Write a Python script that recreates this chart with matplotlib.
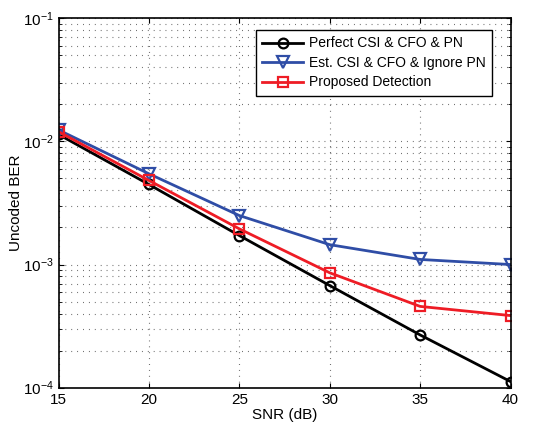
import numpy as np
import matplotlib.pyplot as plt
from matplotlib.ticker import LogLocator, NullFormatter

plt.rcParams['font.family'] = ['Liberation Sans', 'DejaVu Sans']

snr = [15, 20, 25, 30, 35, 40]
ber_perfect = [1.14e-2, 4.47e-3, 1.72e-3, 6.75e-4, 2.68e-4, 1.12e-4]
ber_ignore_pn = [1.24e-2, 5.46e-3, 2.5e-3, 1.45e-3, 1.1e-3, 1.0e-3]
ber_proposed = [1.2e-2, 4.82e-3, 1.95e-3, 8.57e-4, 4.57e-4, 3.85e-4]

labels = ['Perfect CSI & CFO & PN', 'Est. CSI & CFO & Ignore PN', 'Proposed Detection']

fig = plt.figure(figsize=(5.42, 4.26), dpi=100)
ax = fig.add_axes([0.108, 0.09, 0.834, 0.867])

ax.semilogy(snr, ber_perfect, '-o', color='black', lw=2, ms=7,
            mfc='none', mew=1.6, label=labels[0])
ax.semilogy(snr, ber_ignore_pn, '-v', color='#2f4da6', lw=2, ms=8,
            mfc='none', mew=1.6, label=labels[1])
ax.semilogy(snr, ber_proposed, '-s', color='#ee1c25', lw=2, ms=7,
            mfc='none', mew=1.6, label=labels[2])

ax.set_xlim(15, 40)
ax.set_ylim(1e-4, 1e-1)
ax.set_xticks(snr)
ax.yaxis.set_major_locator(LogLocator(base=10, numticks=10))
ax.yaxis.set_minor_locator(LogLocator(base=10, subs=np.arange(2, 10), numticks=10))
ax.yaxis.set_minor_formatter(NullFormatter())

# sparse matlab style dotted grid
ax.grid(True, which='major', ls=(0, (0.8, 4.5)), color='#606060', lw=0.8)
ax.grid(True, which='minor', axis='y', ls=(0, (0.8, 4.5)), color='#606060', lw=0.8)
ax.tick_params(which='both', direction='in', top=True, right=True, labelsize=11)
ax.tick_params(which='minor', length=2)
for s in ax.spines.values():
    s.set_linewidth(1.2)

ax.set_xlabel('SNR (dB)', fontsize=11, labelpad=1)
ax.set_ylabel('Uncoded BER', fontsize=11, labelpad=0)

leg = ax.legend(loc='upper right', bbox_to_anchor=(0.959, 0.968), fontsize=10,
                fancybox=False, edgecolor='black', framealpha=1, borderaxespad=0,
                handlelength=3, borderpad=0.45, labelspacing=0.4, handletextpad=0.4)
leg.get_frame().set_linewidth(1.0)

fig.savefig('out.png', dpi=100)
